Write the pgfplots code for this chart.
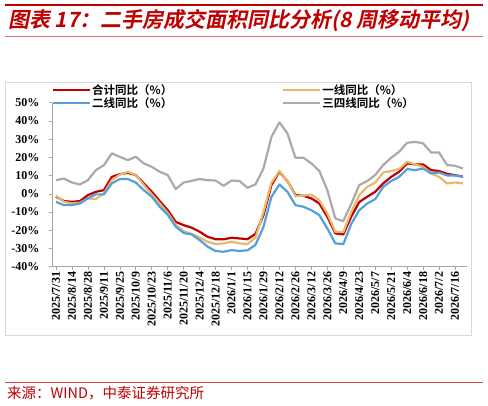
\documentclass[border=0pt]{standalone}
\usepackage{fontspec}
\usepackage{pgfplots}
\usepackage{pgfplotstable}
\pgfplotsset{compat=1.18}
\setmainfont{Liberation Serif}
\newfontfamily\cjk{Noto Sans CJK SC}
\newfontfamily\cjkb{Noto Sans CJK SC Bold}
\newfontfamily\cjkt[FakeSlant=0.2]{Noto Sans CJK SC Bold}
\definecolor{cred}{RGB}{192,0,0}
\definecolor{corange}{RGB}{230,186,110}
\definecolor{cblue}{RGB}{85,160,220}
\definecolor{cgray}{RGB}{170,170,170}
\pgfplotstableread{
w tot t1 t2 t34
0 -1.6 -1.1 -4.4 7.5
1 -4.0 -4.4 -6.2 8.4
2 -4.4 -5.3 -6.2 6.2
3 -4.0 -4.9 -5.3 5.1
4 -0.7 -2.5 -2.5 7.5
5 1.1 -2.9 -0.3 13.0
6 2.0 0.2 -0.3 15.7
7 9.3 7.5 5.7 22.2
8 10.8 10.5 8.1 20.3
9 11.5 12.1 8.1 18.5
10 10.3 10.3 6.2 20.3
11 5.7 4.8 2.0 16.7
12 1.1 -0.3 -1.6 14.8
13 -4.0 -5.3 -7.1 12.1
14 -9.0 -10.5 -11.5 10.3
15 -15.4 -17.0 -18.0 2.6
16 -17.2 -20.5 -21.5 6.2
17 -18.6 -22.0 -22.3 7.1
18 -20.8 -24.0 -25.4 8.1
19 -23.6 -26.3 -29.0 7.5
20 -24.9 -27.6 -31.4 7.3
21 -25.0 -27.2 -31.8 4.4
22 -24.1 -26.3 -30.9 7.3
23 -24.5 -27.2 -31.4 7.0
24 -24.9 -27.6 -31.0 3.3
25 -22.0 -24.0 -28.0 5.2
26 -11.7 -9.9 -18.1 13.9
27 4.8 6.2 -1.6 31.3
28 12.1 12.5 5.1 39.2
29 7.0 7.0 1.1 33.2
30 -0.7 -1.3 -6.2 19.8
31 -1.1 -1.0 -7.1 19.8
32 -2.5 -0.4 -9.0 16.7
33 -5.3 -3.5 -11.7 12.5
34 -12.6 -10.8 -19.0 2.0
35 -21.7 -20.8 -27.2 -13.5
36 -22.3 -21.0 -27.6 -15.0
37 -12.5 -10.0 -16.5 -5.5
38 -4.5 -0.7 -9.0 4.8
39 -1.6 3.8 -5.3 7.0
40 1.1 6.2 -2.9 10.3
41 5.7 11.7 3.8 15.8
42 9.3 12.5 7.0 19.8
43 12.1 13.6 9.3 23.1
44 16.7 17.6 13.6 28.0
45 16.1 16.1 13.0 28.5
46 16.1 14.8 13.9 27.7
47 13.0 11.2 11.2 22.7
48 12.5 9.3 11.7 22.7
49 11.0 5.7 10.1 15.8
50 10.2 6.2 10.1 15.4
51 9.4 5.7 9.3 13.9
}\datatable
\begin{document}
\begin{tikzpicture}
\begin{scope}[shift={(-52pt,-139.3pt)}, x=1pt, y=1pt]
\path (0,0) rectangle (488,406);
\draw[cred, line width=2pt] (5,401) -- (483,401);
\node[anchor=base west, inner sep=0, text=cred] at (8,378) {\cjkt\fontsize{21}{21}\selectfont 图表 17：二手房成交面积同比分析(8 周移动平均)};
\draw[cred!55, line width=0.8pt] (5,370) -- (483,370);
\draw[gray!30, line width=0.6pt] (5,71) rectangle (471,324);
\end{scope}
\begin{axis}[
  scale only axis, width=415pt, height=164pt,
  xmin=-0.5, xmax=51.5, ymin=-40, ymax=50,
  axis x line*=bottom, axis y line*=left,
  axis line style={draw=gray!70, line width=0.8pt},
  tick style={draw=gray!70, line width=0.6pt},
  tick align=outside, major tick length=3pt,
  xtick={0,2,...,50},
  xticklabels={2025/7/31,2025/8/14,2025/8/28,2025/9/11,2025/9/25,2025/10/9,2025/10/23,2025/11/6,2025/11/20,2025/12/4,2025/12/18,2026/1/1,2026/1/15,2026/1/29,2026/2/12,2026/2/26,2026/3/12,2026/3/26,2026/4/9,2026/4/23,2026/5/7,2026/5/21,2026/6/4,2026/6/18,2026/7/2,2026/7/16},
  x tick label style={rotate=90, anchor=east, font=\bfseries\fontsize{12}{12}\selectfont, inner sep=2pt},
  ytick={-40,-30,...,50},
  yticklabels={-40\%,-30\%,-20\%,-10\%,0\%,10\%,20\%,30\%,40\%,50\%},
  y tick label style={font=\bfseries\fontsize{12}{12}\selectfont, anchor=east, xshift=-6pt},
  legend columns=2,
  legend style={at={(axis description cs:0,1)}, anchor=north west, yshift=19.5pt,
    draw=none, fill=none, inner sep=0pt, outer sep=0pt, column sep=0pt, row sep=0pt,
    nodes={inner sep=1pt}, font=\cjkb\fontsize{11.5}{12}\selectfont},
  legend cell align=left,
  legend image code/.code={\draw[#1] (0pt,0pt) -- (37pt,0pt);},
  every axis plot/.append style={line width=2.2pt, line join=round},
]
\addplot[cred, mark=none] table[x=w, y=tot] {\datatable};
\addlegendentry{\makebox[189pt][l]{合计同比（\%）}}
\addplot[corange, mark=none] table[x=w, y=t1] {\datatable};
\addlegendentry{一线同比（\%）}
\addplot[cblue, mark=none] table[x=w, y=t2] {\datatable};
\addlegendentry{\makebox[189pt][l]{二线同比（\%）}}
\addplot[cgray, mark=none] table[x=w, y=t34] {\datatable};
\addlegendentry{三四线同比（\%）}
\end{axis}
\begin{scope}[shift={(-52pt,-139.3pt)}, x=1pt, y=1pt]
\draw[cred!70, line width=1pt] (5,23.7) -- (483,23.7);
\node[anchor=base west, inner sep=0, text=cred] at (7,7) {\cjk\fontsize{14.5}{15}\selectfont 来源：WIND，中泰证券研究所};
\end{scope}
\end{tikzpicture}
\end{document}
